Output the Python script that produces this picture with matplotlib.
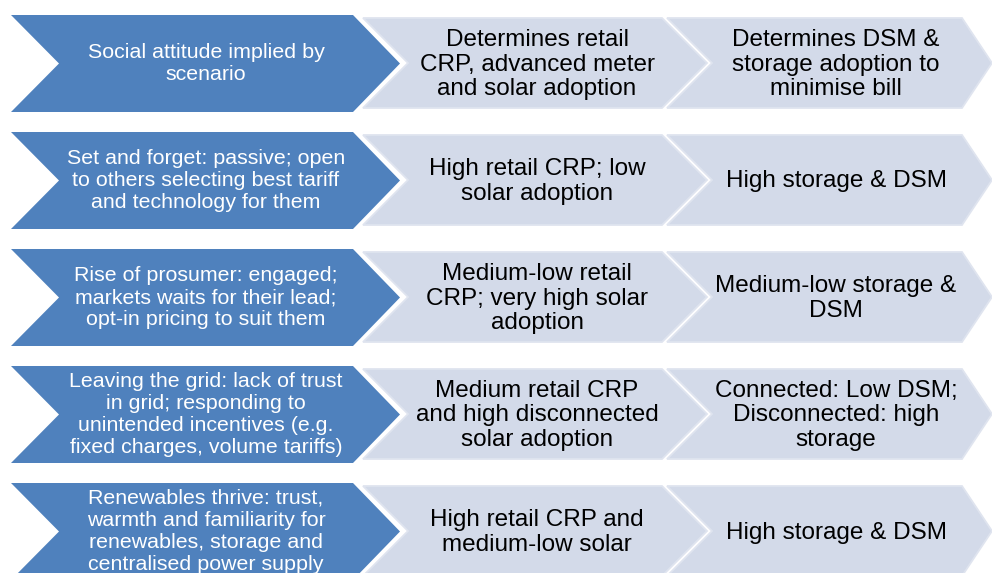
import matplotlib
matplotlib.use("Agg")
import matplotlib.pyplot as plt
from matplotlib.patches import Polygon

# ---- content ----
scenarios = [
    "Social attitude implied by\nscenario",
    "Set and forget: passive; open\nto others selecting best tariff\nand technology for them",
    "Rise of prosumer: engaged;\nmarkets waits for their lead;\nopt-in pricing to suit them",
    "Leaving the grid: lack of trust\nin grid; responding to\nunintended incentives (e.g.\nfixed charges, volume tariffs)",
    "Renewables thrive: trust,\nwarmth and familiarity for\nrenewables, storage and\ncentralised power supply",
]
retail_outcomes = [
    "Determines retail\nCRP, advanced meter\nand solar adoption",
    "High retail CRP; low\nsolar adoption",
    "Medium-low retail\nCRP; very high solar\nadoption",
    "Medium retail CRP\nand high disconnected\nsolar adoption",
    "High retail CRP and\nmedium-low solar",
]
storage_outcomes = [
    "Determines DSM &\nstorage adoption to\nminimise bill",
    "High storage & DSM",
    "Medium-low storage &\nDSM",
    "Connected: Low DSM;\nDisconnected: high\nstorage",
    "High storage & DSM",
]

# ---- style ----
BLUE = "#4F81BD"
LIGHT = "#D3DAE9"
LIGHT_EDGE = "#DFE4EF"
FONT = "Liberation Sans"

fig = plt.figure(figsize=(9.92, 5.73), dpi=100)
ax = fig.add_axes([0, 0, 1, 1])
ax.set_xlim(0, 992)
ax.set_ylim(573, 0)
ax.axis("off")

row_top0, row_step, row_h = 15, 117, 97

def chevron(x0, x1, depth_in, depth_out, top, bot, **kw):
    mid = (top + bot) / 2
    pts = [(x0, top), (x1, top), (x1 + depth_out, mid), (x1, bot), (x0, bot), (x0 + depth_in, mid)]
    return Polygon(pts, closed=True, **kw)

for i, (s, r, st) in enumerate(zip(scenarios, retail_outcomes, storage_outcomes)):
    top = row_top0 + i * row_step
    bot = top + row_h
    mid = (top + bot) / 2
    # light chevrons
    ax.add_patch(chevron(667, 962, 45, 30, top + 3, bot - 4, facecolor=LIGHT,
                         edgecolor=LIGHT_EDGE, linewidth=1.3, zorder=1))
    ax.add_patch(chevron(363, 662, 45, 45, top + 3, bot - 4, facecolor=LIGHT,
                         edgecolor=LIGHT_EDGE, linewidth=1.3, zorder=2))
    # blue chevron
    ax.add_patch(chevron(11, 353, 48, 47, top, bot, facecolor=BLUE,
                         edgecolor="none", zorder=3))
    ax.text(206, mid, s, ha="center", va="center", multialignment="center",
            color="white", fontsize=15.4, family=FONT, linespacing=1.2, zorder=4)
    ax.text(537, mid + 1, r, ha="center", va="center", multialignment="center",
            color="black", fontsize=17.5, family=FONT, linespacing=1.17, zorder=4)
    ax.text(836, mid + 1, st, ha="center", va="center", multialignment="center",
            color="black", fontsize=17.5, family=FONT, linespacing=1.17, zorder=4)

fig.savefig("out.png", dpi=100, facecolor="white")
